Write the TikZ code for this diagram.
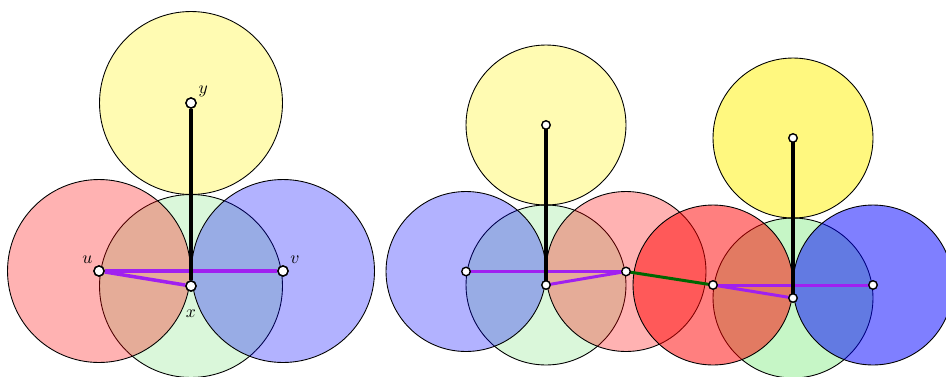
\documentclass[tikz,border=0pt]{standalone}
\definecolor{lgreen}{RGB}{218,247,218}
\definecolor{mgreen}{RGB}{198,246,198}
\definecolor{vpurple}{RGB}{160,32,240}
\begin{document}
\begin{tikzpicture}[x = 0.02cm, y = -0.02cm, circle,
    disk/.style = {draw, line width = 0.5pt, minimum size = 3.66cm},
    sdisk/.style = {draw, line width = 0.5pt, minimum size = 3.2cm},
    dot/.style = {draw, fill = white, line width = 0.8pt, inner sep = 0pt, minimum size = 0.2cm},
    sdot/.style = {dot, minimum size = 0.17cm},
    tree/.style = {line width = 2.1pt},
    pair/.style = {vpurple, line width = 2pt}]
  \useasboundingbox (0,0) rectangle (946,376);

  % left picture
  \node[disk, fill = lgreen] (Cx) at (191,286) {};
  \node[disk, fill = red, fill opacity = 0.3] (Cu) at (99,271) {};
  \node[disk, fill = blue, fill opacity = 0.3] (Cv) at (283,271) {};
  \node[disk, fill = yellow, fill opacity = 0.3] (Cy) at (191,103) {};

  \node[dot, label = {[label distance = -2.5pt]140:$u$}] (u) at (Cu) {};
  \node[dot, label = {[label distance = -2pt]40:$v$}] (v) at (Cv) {};
  \node[dot, label = {[label distance = 4pt]below:$x$}] (x) at (Cx) {};
  \node[dot, label = {[label distance = -2.5pt]35:$y$}] (y) at (Cy) {};

  \path[pair] (u) edge (v);
  \path[pair] (u) edge (x);
  \path[tree] (y) edge (x);
  \foreach \n in {u, v, x, y} \node[dot] at (\n) {};

  % right picture
  \node[sdisk, fill = lgreen] (Cx1) at (546,285) {};
  \node[sdisk, fill = mgreen] (Cx2) at (793,298) {};
  \node[sdisk, fill = blue, fill opacity = 0.3] (Cb1) at (466,271.5) {};
  \node[sdisk, fill = red, fill opacity = 0.3] (Cr1) at (626,271.5) {};
  \node[sdisk, fill = red, fill opacity = 0.5] (Cr2) at (713,285) {};
  \node[sdisk, fill = blue, fill opacity = 0.5] (Cb2) at (873,285) {};
  \node[sdisk, fill = yellow, fill opacity = 0.3] (Cy1) at (546,125) {};
  \node[sdisk, fill = yellow, fill opacity = 0.5] (Cy2) at (793,138) {};

  \path[pair, line width = 1.7pt] (Cb1.center) edge (Cr1.center);
  \path[pair, line width = 1.7pt] (Cx1.center) edge (Cr1.center);
  \path[pair, line width = 1.7pt] (Cr2.center) edge (Cb2.center);
  \path[pair, line width = 1.7pt] (Cr2.center) edge (Cx2.center);
  \path[green!40!black, line width = 1.7pt] (Cr1.center) edge (Cr2.center);
  \path[tree, line width = 1.8pt] (Cy1.center) edge (Cx1.center);
  \path[tree, line width = 1.8pt] (Cy2.center) edge (Cx2.center);
  \foreach \n in {b1, x1, r1, r2, x2, b2, y1, y2} \node[sdot] (\n) at (C\n) {};
\end{tikzpicture}
\end{document}
